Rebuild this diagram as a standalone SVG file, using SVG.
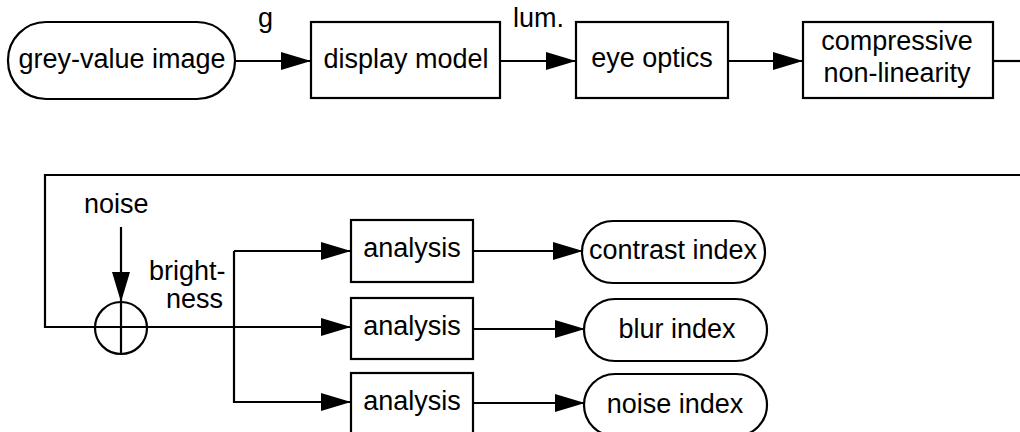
<svg xmlns="http://www.w3.org/2000/svg" width="1020" height="432" viewBox="0 0 1020 432">
<style>
.box{fill:#fff;stroke:#000;stroke-width:2.2}
.ln{fill:none;stroke:#000;stroke-width:2.2}
text{font-family:"Liberation Sans",Arial,sans-serif;font-size:27px;fill:#000}
.c{text-anchor:middle}
</style>
<defs>
<marker id="ah" markerUnits="userSpaceOnUse" viewBox="0 0 30 18" refX="30" refY="9" markerWidth="30" markerHeight="18" orient="auto">
<path d="M0,0 L30,9 L0,18 Z" fill="#000"/>
</marker>
</defs>
<rect width="1020" height="432" fill="#fff"/>
<g id="connectors">
<line class="ln" x1="235" y1="61" x2="311" y2="61" marker-end="url(#ah)"/>
<line class="ln" x1="500" y1="61" x2="576" y2="61" marker-end="url(#ah)"/>
<line class="ln" x1="728" y1="61" x2="803" y2="61" marker-end="url(#ah)"/>
<line class="ln" x1="993" y1="61" x2="1020" y2="61"/>
<polyline class="ln" points="1020,175 45,175 45,327 148,327"/>
<line class="ln" x1="121" y1="227" x2="121" y2="302" marker-end="url(#ah)"/>
<line class="ln" x1="148" y1="327" x2="351" y2="327" marker-end="url(#ah)"/>
<polyline class="ln" points="234,251 234,402 351,402" marker-end="url(#ah)"/>
<line class="ln" x1="234" y1="251" x2="351" y2="251" marker-end="url(#ah)"/>
<line class="ln" x1="473" y1="251" x2="583" y2="251" marker-end="url(#ah)"/>
<line class="ln" x1="473" y1="329" x2="585" y2="329" marker-end="url(#ah)"/>
<line class="ln" x1="473" y1="403" x2="585" y2="403" marker-end="url(#ah)"/>
<text x="258" y="27">g</text>
<text x="513" y="27">lum.</text>
<text x="84" y="213">noise</text>
<text x="149" y="280">bright-</text>
<text x="166" y="308">ness</text>
</g>
<g id="sum">
<circle cx="121" cy="328" r="26" fill="none" stroke="#000" stroke-width="2.2"/>
<line class="ln" x1="95" y1="327" x2="147" y2="327"/>
<line class="ln" x1="121" y1="302" x2="121" y2="354"/>
</g>
<g id="grey-value-image">
<rect class="box" x="8" y="22" width="227" height="77" rx="38" ry="38"/>
<text class="c" x="122" y="68">grey-value image</text>
</g>
<g id="display-model">
<rect class="box" x="311" y="22" width="189" height="76"/>
<text class="c" x="406" y="68">display model</text>
</g>
<g id="eye-optics">
<rect class="box" x="576" y="22" width="152" height="76"/>
<text class="c" x="652" y="67">eye optics</text>
</g>
<g id="compressive">
<rect class="box" x="803" y="22" width="190" height="76"/>
<text class="c" x="897" y="50">compressive</text>
<text class="c" x="897" y="82">non-linearity</text>
</g>
<g id="analysis1">
<rect class="box" x="351" y="220" width="122" height="62"/>
<text class="c" x="412" y="257">analysis</text>
</g>
<g id="analysis2">
<rect class="box" x="351" y="298" width="122" height="61"/>
<text class="c" x="412" y="335">analysis</text>
</g>
<g id="analysis3">
<rect class="box" x="351" y="373" width="122" height="61"/>
<text class="c" x="412" y="410">analysis</text>
</g>
<g id="contrast-index">
<rect class="box" x="582" y="221" width="183" height="62" rx="31" ry="31"/>
<text class="c" x="673" y="259">contrast index</text>
</g>
<g id="blur-index">
<rect class="box" x="584" y="299" width="183" height="62" rx="31" ry="31"/>
<text class="c" x="677" y="338">blur index</text>
</g>
<g id="noise-index">
<rect class="box" x="584" y="374" width="183" height="62" rx="31" ry="31"/>
<text class="c" x="675" y="413">noise index</text>
</g>
</svg>
